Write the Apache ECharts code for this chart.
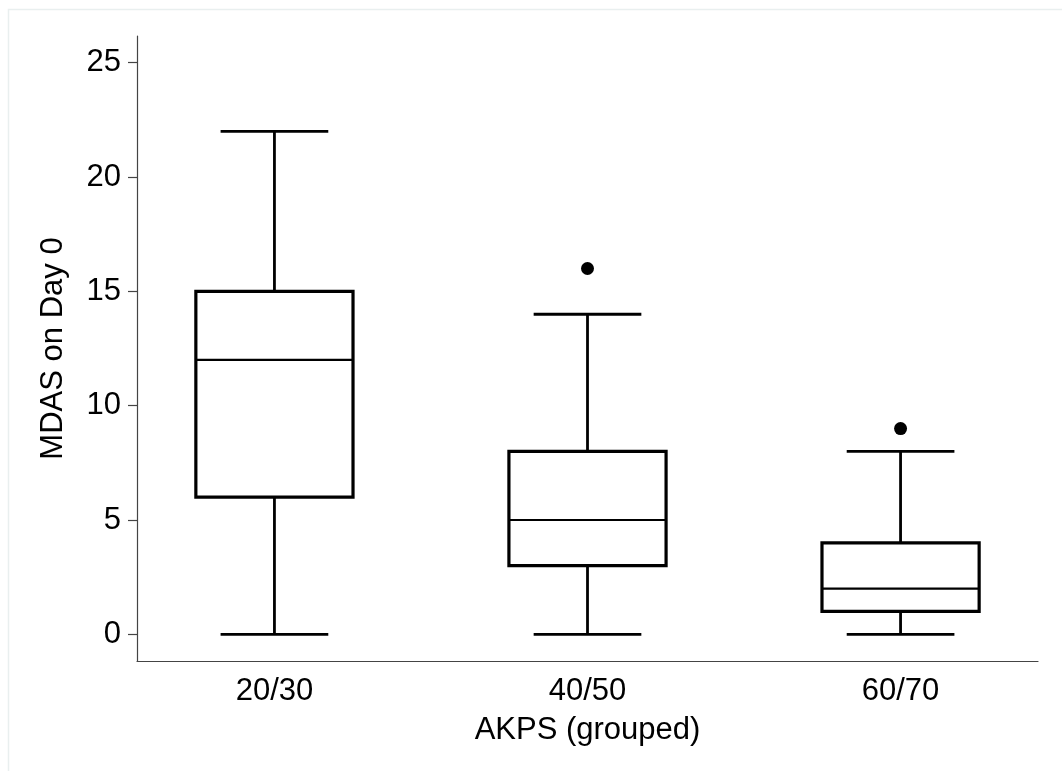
<!DOCTYPE html>
<html>
<head>
<meta charset="utf-8">
<script src="https://cdn.jsdelivr.net/npm/echarts@6/dist/echarts.min.js"></script>
<style>
html,body{margin:0;padding:0;background:#fff;}
#chart{width:1062px;height:771px;}
</style>
</head>
<body>
<div id="chart"></div>
<script>
// Data
var categories = ['20/30', '40/50', '60/70'];
var whiskerLow = [0, 0, 0];
var q1 = [6, 3, 1];
var median = [12, 5, 2];
var q3 = [15, 8, 4];
var whiskerHigh = [22, 14, 8];
var outliers = [[2, 16], [3, 9]]; // [category position, value]
var yTicks = [0, 5, 10, 15, 20, 25];

var boxData = categories.map(function (c, i) {
  return [i + 1, whiskerLow[i], q1[i], median[i], q3[i], whiskerHigh[i]];
});

var chart = echarts.init(document.getElementById('chart'));
var font = '"Liberation Sans", Arial, Helvetica, sans-serif';

function renderBox(params, api) {
  var x = api.value(0);
  var lo = api.coord([x, api.value(1)]);
  var b1 = api.coord([x, api.value(2)]);
  var md = api.coord([x, api.value(3)]);
  var b3 = api.coord([x, api.value(4)]);
  var hi = api.coord([x, api.value(5)]);
  var halfBox = api.size([0.251, 0])[0];
  var halfCap = api.size([0.172, 0])[0];
  var cx = lo[0];
  var lineStyle = {stroke: '#000', lineWidth: 2.8, fill: null};
  return {
    type: 'group',
    children: [
      {type: 'line', shape: {x1: cx, y1: b3[1], x2: cx, y2: hi[1]}, style: lineStyle},
      {type: 'line', shape: {x1: cx, y1: lo[1], x2: cx, y2: b1[1]}, style: lineStyle},
      {type: 'line', shape: {x1: cx - halfCap, y1: hi[1], x2: cx + halfCap, y2: hi[1]}, style: lineStyle},
      {type: 'line', shape: {x1: cx - halfCap, y1: lo[1], x2: cx + halfCap, y2: lo[1]}, style: lineStyle},
      {type: 'rect', shape: {x: cx - halfBox, y: b3[1], width: 2 * halfBox, height: b1[1] - b3[1]},
        style: {stroke: '#000', lineWidth: 3.2, fill: '#fff'}},
      {type: 'line', shape: {x1: cx - halfBox, y1: md[1], x2: cx + halfBox, y2: md[1]},
        style: {stroke: '#000', lineWidth: 2.2}}
    ]
  };
}

chart.setOption({
  backgroundColor: '#fff',
  animation: false,
  graphic: [{
    type: 'rect', silent: true, z: -10,
    shape: {x: 8.5, y: 9.5, width: 1100, height: 800},
    style: {fill: null, stroke: '#e9efef', lineWidth: 1.5}
  }],
  grid: {left: 137, top: 36, right: 24, bottom: 110, containLabel: false},
  xAxis: {
    type: 'value', min: 0.561, max: 3.439,
    name: 'AKPS (grouped)', nameLocation: 'middle', nameGap: 54,
    nameTextStyle: {fontFamily: font, fontSize: 31, color: '#000'},
    axisLine: {show: true, onZero: false, lineStyle: {color: '#444', width: 1.2}},
    axisTick: {show: false},
    splitLine: {show: false},
    axisLabel: {
      customValues: [1, 2, 3], margin: 15,
      fontFamily: font, fontSize: 31, color: '#000',
      formatter: function (v) { return categories[Math.round(v) - 1] || ''; }
    }
  },
  yAxis: {
    type: 'value', min: -1.168, max: 26.17,
    name: 'MDAS on Day 0', nameLocation: 'middle', nameGap: 68, nameRotate: 90,
    nameTextStyle: {fontFamily: font, fontSize: 31, color: '#000'},
    axisLine: {show: true, onZero: false, lineStyle: {color: '#444', width: 1.2}},
    axisTick: {show: true, customValues: yTicks, length: 9, lineStyle: {color: '#444', width: 1.2}},
    splitLine: {show: false},
    axisLabel: {
      customValues: yTicks, margin: 16,
      fontFamily: font, fontSize: 31, color: '#000'
    }
  },
  series: [
    {type: 'custom', renderItem: renderBox, data: boxData, encode: {x: 0, y: [1, 2, 3, 4, 5]}, clip: false},
    {type: 'scatter', data: outliers, symbol: 'circle', symbolSize: 13,
      itemStyle: {color: '#000', opacity: 1}, silent: true}
  ]
});
</script>
</body>
</html>
